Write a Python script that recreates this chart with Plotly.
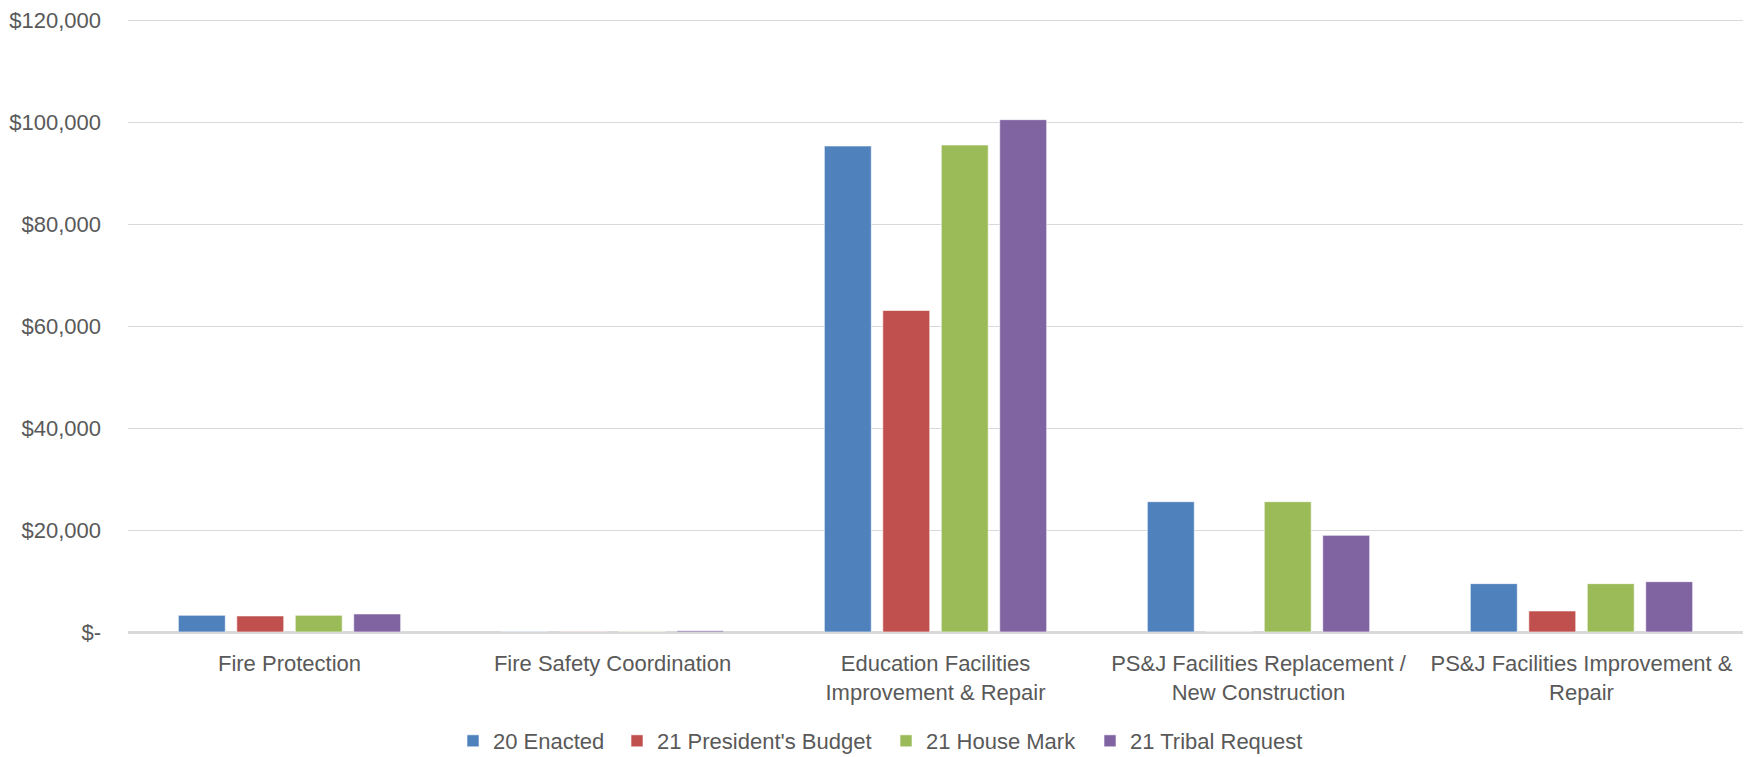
import plotly.graph_objects as go

categories = [
    "Fire Protection",
    "Fire Safety Coordination",
    "Education Facilities<br>Improvement & Repair",
    "PS&J Facilities Replacement /<br>New Construction",
    "PS&J Facilities Improvement &<br>Repair",
]
series_names = ["20 Enacted", "21 President's Budget", "21 House Mark", "21 Tribal Request"]
enacted_20 = [3270, 100, 95300, 25550, 9480]
presidents_budget_21 = [3150, 100, 63050, 0, 4130]
house_mark_21 = [3270, 100, 95500, 25550, 9480]
tribal_request_21 = [3540, 250, 100460, 18950, 9870]
colors = ["#4F81BD", "#C0504D", "#9BBB59", "#8064A2"]

tick_vals = [0, 20000, 40000, 60000, 80000, 100000, 120000]
tick_text = ["$-", "$20,000", "$40,000", "$60,000", "$80,000", "$100,000", "$120,000"]

# legend text start positions (px in figure)
legend_text_x = [493, 657, 926, 1130]

FONT = "Liberation Sans"
GREY = "#595959"
W, H = 1752, 757
M_L, M_R, M_T, M_B = 128, 9, 19, 125
plot_h = H - M_T - M_B

fig = go.Figure()
legend_ids = ["legend", "legend2", "legend3", "legend4"]
for name, vals, col, lid in zip(series_names,
                                [enacted_20, presidents_budget_21, house_mark_21, tribal_request_21],
                                colors, legend_ids):
    fig.add_trace(go.Bar(x=categories, y=vals, name=name, legend=lid,
                         marker=dict(color=col, line=dict(color="rgba(255,255,255,0.6)", width=1))))

layout_legends = {}
for lid, tx in zip(legend_ids, legend_text_x):
    layout_legends[lid] = dict(
        orientation="h", xref="container", yref="paper",
        x=(tx - 40) / W, xanchor="left",
        y=-(762 - (H - M_B)) / plot_h, yanchor="bottom",
        font=dict(family=FONT, size=22, color=GREY),
        itemwidth=30, bgcolor="rgba(0,0,0,0)",
    )

fig.update_layout(
    width=W, height=H,
    barmode="group", bargap=0.276, bargroupgap=0.197,
    plot_bgcolor="white", paper_bgcolor="white",
    margin=dict(l=M_L, r=M_R, t=M_T, b=M_B, autoexpand=False),
    font=dict(family=FONT, size=22, color=GREY),
    showlegend=True,
    **layout_legends,
)
fig.update_yaxes(range=[0, 120200], tickvals=tick_vals, ticktext=tick_text,
                 showgrid=True, gridcolor="#D9D9D9", gridwidth=1,
                 zeroline=True, zerolinecolor="#D9D9D9", zerolinewidth=1.5,
                 showline=False, ticklabelstandoff=26, automargin=False,
                 ticklabeloverflow="allow",
                 tickfont=dict(family=FONT, size=22, color=GREY))
fig.update_xaxes(showgrid=False, showline=True, linecolor="#D9D9D9", linewidth=1.5,
                 ticks="", ticklabelstandoff=11, automargin=False,
                 tickfont=dict(family=FONT, size=22, color=GREY))

fig.write_html("out.html", config={"displayModeBar": False},
               post_script="document.body.style.margin='0';")
